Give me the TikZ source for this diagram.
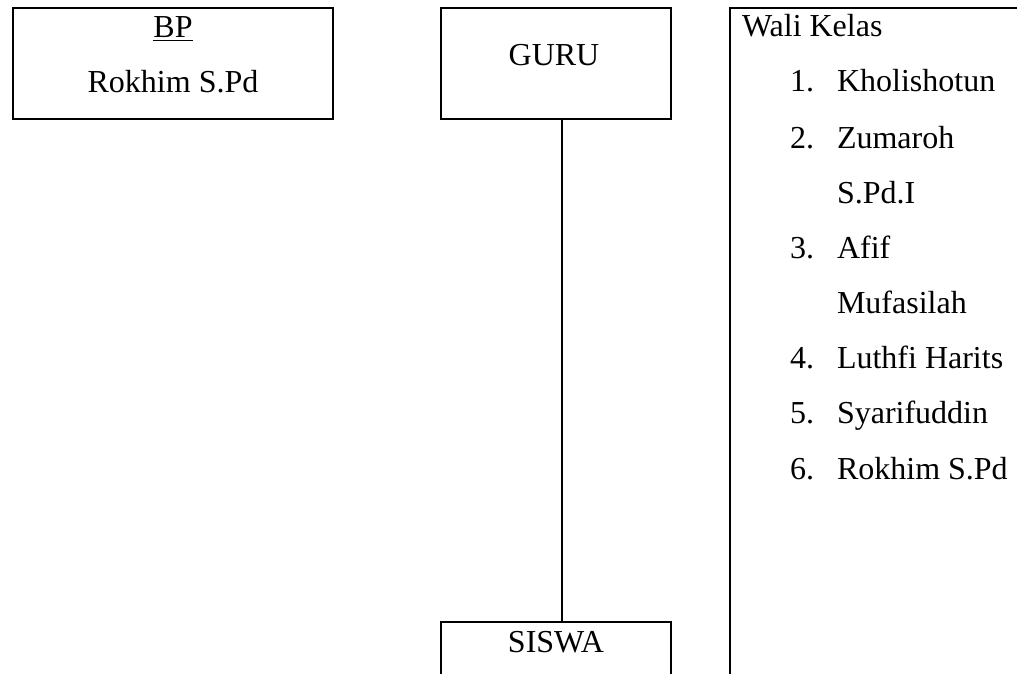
\documentclass[tikz,border=0pt]{standalone}
\usepackage{fontspec}
\setmainfont{Liberation Serif}
\begin{document}
\begin{tikzpicture}[x=0.75pt,y=-0.75pt,
  box/.style={draw,line width=1.5pt,rectangle,inner sep=0pt,outer sep=0pt},
  txt/.style={font=\fontsize{24}{28}\selectfont,inner sep=0pt,outer sep=0pt,anchor=base},
  item/.style={txt,anchor=base west},
  conn/.style={line width=1.5pt}]
\useasboundingbox (0,0) rectangle (1017,674);
\clip (0,0) rectangle (1017,674);
% BP box
\node[box,anchor=north west,minimum width=320*0.75pt,minimum height=111*0.75pt] (bp) at (13,8) {};
\node[txt] (bpt) at (173,38) {\underline{BP}};
\node[txt] (bpn) at (173,93) {Rokhim S.Pd};
% GURU box
\node[box,anchor=north west,minimum width=230*0.75pt,minimum height=111*0.75pt] (guru) at (441,8) {};
\node[txt] (gurut) at (554,65) {GURU};
% SISWA box (cut by the page edge)
\node[box,anchor=north west,minimum width=230*0.75pt,minimum height=120*0.75pt] (siswa) at (441,622) {};
\node[txt] (siswat) at (556,652) {SISWA};
% connector
\coordinate (cx) at (562,0);
\draw[conn] (guru.south -| cx) -- (siswa.north -| cx);
% Wali Kelas box (cut by the page edges)
\node[box,anchor=north west,minimum width=400*0.75pt,minimum height=720*0.75pt] (wali) at (730,8) {};
\node[item] (wt) at (742,37) {Wali Kelas};
\node[item] (n1) at (790,92) {1.};
\node[item] (i1) at (837,92) {Kholishotun};
\node[item] (n2) at (790,148) {2.};
\node[item] (i2) at (837,148) {Zumaroh};
\node[item] (i2b) at (837,203) {S.Pd.I};
\node[item] (n3) at (790,258) {3.};
\node[item] (i3) at (837,258) {Afif};
\node[item] (i3b) at (837,313) {Mufasilah};
\node[item] (n4) at (790,368) {4.};
\node[item] (i4) at (837,368) {Luthfi Harits};
\node[item] (n5) at (790,423) {5.};
\node[item] (i5) at (837,423) {Syarifuddin};
\node[item] (n6) at (790,479) {6.};
\node[item] (i6) at (837,479) {Rokhim S.Pd};
\end{tikzpicture}
\end{document}
